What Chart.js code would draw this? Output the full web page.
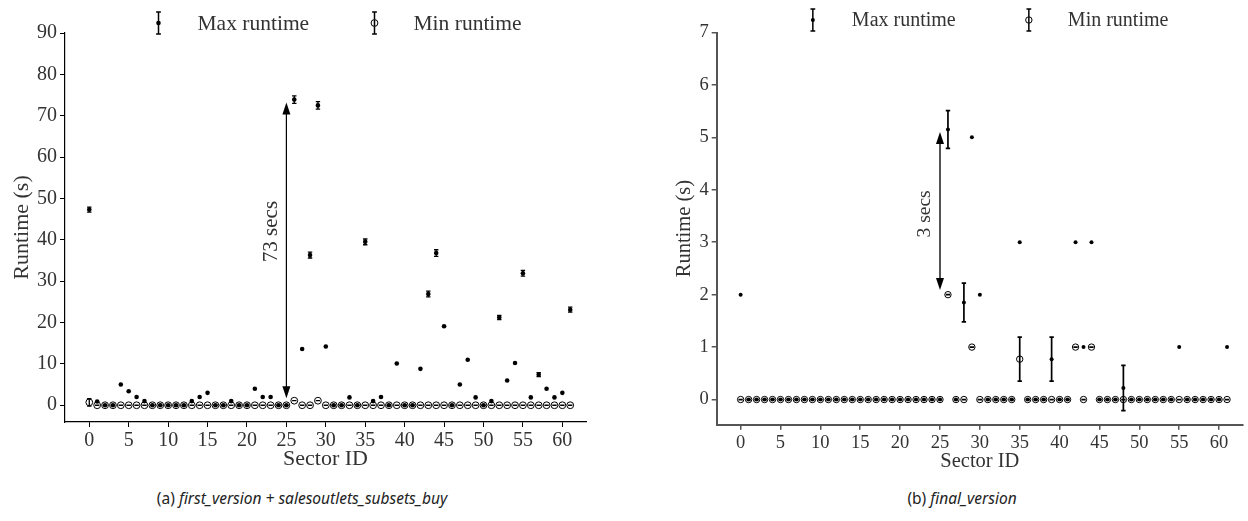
<!DOCTYPE html>
<html>
<head>
<meta charset="utf-8">
<script src="https://cdn.jsdelivr.net/npm/chart.js@4.4.0/dist/chart.umd.min.js"></script>
<style>
  body { margin: 0; background: #fff; width: 1248px; height: 521px; position: relative; overflow: hidden; }
  #left-chart { position: absolute; left: 0; top: 0; }
  #right-chart { position: absolute; left: 660px; top: 0; }
  .caption { position: absolute; top: 487px; font-family: 'Noto Sans', sans-serif; font-size: 15.5px; color: #222; text-align: center; white-space: nowrap; }
</style>
</head>
<body>
<canvas id="left-chart" width="624" height="478"></canvas>
<canvas id="right-chart" width="588" height="478"></canvas>
<div class="caption" style="left:0;width:604px">(a) <i>first_version + salesoutlets_subsets_buy</i></div>
<div class="caption" style="left:662px;width:600px">(b) <i>final_version</i></div>
<script>
// --- data ---
const sectorIds = [0,1,2,3,4,5,6,7,8,9,10,11,12,13,14,15,16,17,18,19,20,21,22,23,24,25,26,27,28,29,30,
  31,32,33,34,35,36,37,38,39,40,41,42,43,44,45,46,47,48,49,50,51,52,53,54,55,56,57,58,59,60,61];
const xTicks = [0,5,10,15,20,25,30,35,40,45,50,55,60];
const leftYTicks = [0,10,20,30,40,50,60,70,80,90];
const rightYTicks = [0,1,2,3,4,5,6,7];
const seriesLabels = ['Max runtime', 'Min runtime'];

// (a) first_version + salesoutlets_subsets_buy
const leftMax = [47.3,0.9,0,0,5.0,3.4,2.0,1.0,0,0, 0,0,0,1.0,2.0,3.0,0,0,1.0,0,
  0,4.0,2.0,2.0,0,0,73.9,13.6,36.3,72.5, 14.2,0,0,1.9,0,39.5,1.0,2.0,0,10.1,
  0,0,8.8,26.9,36.8,19.1,0,5.0,11.0,1.9, 0,1.0,21.2,6.0,10.2,31.9,1.9,7.4,4.0,1.9, 3.0,23.1];
const leftMaxErr = [0.6,0,0,0,0,0,0,0,0,0, 0,0,0,0,0,0,0,0,0,0,
  0,0,0,0,0,0,0.9,0,0.7,0.9, 0,0,0,0,0,0.7,0,0,0,0,
  0,0,0,0.7,0.8,0,0,0,0,0, 0,0,0.5,0,0,0.7,0,0.5,0,0, 0,0.6];
const leftMin = [0.7,0,0,0,0,0,0,0,0,0, 0,0,0,0,0,0,0,0,0,0,
  0,0,0,0,0,0,1.1,0,0,1.1, 0,0,0,0,0,0,0,0,0,0,
  0,0,0,0,0,0,0,0,0,0, 0,0,0,0,0,0,0,0,0,0, 0,0];
const leftMinErr = [0.9,0,0,0,0,0,0,0,0,0, 0,0,0,0,0,0,0,0,0,0,
  0,0,0,0,0,0,0,0,0,0, 0,0,0,0,0,0,0,0,0,0,
  0,0,0,0,0,0,0,0,0,0, 0,0,0,0,0,0,0,0,0,0, 0,0];

// (b) final_version
const rightMax = [2.0,0,0,0,0,0,0,0,0,0, 0,0,0,0,0,0,0,0,0,0,
  0,0,0,0,0,0,5.15,0,1.85,5.0, 2.0,0,0,0,0,3.0,0,0,0,0.77,
  0,0,3.0,1.0,3.0,0,0,0,0.22,0, 0,0,0,0,0,1.0,0,0,0,0, 0,1.0];
const rightMaxErr = [0,0,0,0,0,0,0,0,0,0, 0,0,0,0,0,0,0,0,0,0,
  0,0,0,0,0,0,0.36,0,0.37,0, 0,0,0,0,0,0,0,0,0,0.42,
  0,0,0,0,0,0,0,0,0.43,0, 0,0,0,0,0,0,0,0,0,0, 0,0];
const rightMin = [0,0,0,0,0,0,0,0,0,0, 0,0,0,0,0,0,0,0,0,0,
  0,0,0,0,0,0,2.0,0,0,1.0, 0,0,0,0,0,0.77,0,0,0,0,
  0,0,1.0,0,1.0,0,0,0,0,0, 0,0,0,0,0,0,0,0,0,0, 0,0];
const rightMinErr = [0,0,0,0,0,0,0,0,0,0, 0,0,0,0,0,0,0,0,0,0,
  0,0,0,0,0,0,0,0,0,0, 0,0,0,0,0,0.42,0,0,0,0,
  0,0,0,0,0,0,0,0,0,0, 0,0,0,0,0,0,0,0,0,0, 0,0];

const SERIF = "'Liberation Serif', 'DejaVu Serif', serif";

// vertical error bars with small caps, drawn under the markers
const errorBarPlugin = {
  id: 'errorBars',
  beforeDatasetsDraw(chart, args, opts) {
    const { ctx, scales: { x, y } } = chart;
    const cap = 2.2;
    ctx.save();
    chart.data.datasets.forEach(ds => {
      if (!ds.errors) return;
      ctx.strokeStyle = '#000';
      ctx.lineWidth = opts.width || 1.3;
      ds.data.forEach((p, i) => {
        const e = ds.errors[i];
        // zero-width bars only show as a dash inside the open rings
        if (e === 0 && !ds.hollow) return;
        const px = x.getPixelForValue(p.x);
        const top = y.getPixelForValue(p.y + e);
        const bot = y.getPixelForValue(p.y - e);
        ctx.beginPath();
        if (e > 0) { ctx.moveTo(px, top); ctx.lineTo(px, bot); }
        ctx.moveTo(px - cap, top); ctx.lineTo(px + cap, top);
        ctx.moveTo(px - cap, bot); ctx.lineTo(px + cap, bot);
        ctx.stroke();
      });
    });
    ctx.restore();
  }
};

// double arrow with a rotated note ("73 secs", "3 secs")
const arrowPlugin = {
  id: 'arrowNote',
  afterDatasetsDraw(chart, args, opts) {
    if (!opts || opts.x == null) return;
    const { ctx, scales: { x, y } } = chart;
    const px = x.getPixelForValue(opts.x);
    const yTop = y.getPixelForValue(opts.yTo);
    const yBot = y.getPixelForValue(opts.yFrom);
    const headLen = 12, headHalf = 4;
    ctx.save();
    ctx.strokeStyle = opts.color;
    ctx.lineWidth = opts.width;
    ctx.beginPath();
    ctx.moveTo(px, yTop + headLen - 1);
    ctx.lineTo(px, yBot - headLen + 1);
    ctx.stroke();
    ctx.fillStyle = '#000';
    ctx.beginPath();
    ctx.moveTo(px, yTop); ctx.lineTo(px - headHalf, yTop + headLen); ctx.lineTo(px + headHalf, yTop + headLen);
    ctx.closePath(); ctx.fill();
    ctx.beginPath();
    ctx.moveTo(px, yBot); ctx.lineTo(px - headHalf, yBot - headLen); ctx.lineTo(px + headHalf, yBot - headLen);
    ctx.closePath(); ctx.fill();
    // label, rotated
    ctx.translate(px - 15, y.getPixelForValue(opts.labelY));
    ctx.rotate(-Math.PI / 2);
    ctx.font = `${opts.fontSize}px ${SERIF}`;
    ctx.fillStyle = '#333';
    ctx.textAlign = 'center';
    ctx.textBaseline = 'middle';
    ctx.fillText(opts.label, 0, 0);
    ctx.restore();
  }
};

// legend: errorbar glyph + label, placed relative to the plot centre
const errLegendPlugin = {
  id: 'errLegend',
  afterDraw(chart, args, opts) {
    const { ctx, chartArea } = chart;
    const cx = (chartArea.left + chartArea.right) / 2;
    ctx.save();
    chart.data.datasets.forEach((ds, i) => {
      const sx = cx + opts.offsets[i];
      const sy = opts.y;
      ctx.strokeStyle = '#000';
      ctx.lineWidth = 1.5;
      ctx.beginPath();
      ctx.moveTo(sx, sy - 11); ctx.lineTo(sx, sy + 11);
      ctx.moveTo(sx - 2.4, sy - 11); ctx.lineTo(sx + 2.4, sy - 11);
      ctx.moveTo(sx - 2.4, sy + 11); ctx.lineTo(sx + 2.4, sy + 11);
      ctx.stroke();
      ctx.beginPath();
      ctx.arc(sx, sy, ds.pointRadius, 0, Math.PI * 2);
      if (ds.hollow) {
        ctx.fillStyle = '#fff'; ctx.fill();
        ctx.lineWidth = 1; ctx.stroke();
        ctx.beginPath(); ctx.moveTo(sx, sy - ds.pointRadius); ctx.lineTo(sx, sy + ds.pointRadius);
        ctx.lineWidth = 1.5; ctx.stroke();
      } else {
        ctx.fillStyle = '#000'; ctx.fill();
      }
      ctx.font = `${opts.fontSize}px ${SERIF}`;
      ctx.fillStyle = '#333';
      ctx.textAlign = 'left';
      ctx.textBaseline = 'middle';
      ctx.fillText(ds.label, sx + 39, sy + 1);
    });
    ctx.restore();
  }
};

function points(values) {
  return sectorIds.map((s, i) => ({ x: s, y: values[i] }));
}

function makeChart(canvasId, cfg) {
  const axisColor = cfg.axisColor;
  return new Chart(document.getElementById(canvasId), {
    type: 'scatter',
    plugins: [errorBarPlugin, arrowPlugin, errLegendPlugin],
    data: {
      datasets: [{
        label: seriesLabels[0],
        data: points(cfg.max),
        errors: cfg.maxErr,
        pointRadius: cfg.dotRadius,
        pointBorderWidth: 0,
        backgroundColor: '#000',
        borderColor: '#000'
      }, {
        label: seriesLabels[1],
        data: points(cfg.min),
        errors: cfg.minErr,
        hollow: true,
        pointRadius: cfg.ringRadius,
        pointBorderWidth: 1,
        backgroundColor: 'rgba(0,0,0,0)',
        borderColor: '#000'
      }]
    },
    options: {
      responsive: false,
      animation: false,
      layout: { padding: { top: cfg.top, right: cfg.padRight, left: 0, bottom: 0 } },
      plugins: {
        legend: { display: false },
        tooltip: { enabled: false },
        errorBars: { width: cfg.errWidth },
        arrowNote: cfg.arrow,
        errLegend: { offsets: [-167, 49], y: cfg.legendY, fontSize: cfg.legendFont }
      },
      scales: {
        x: {
          type: 'linear',
          min: cfg.xMin, max: cfg.xMax,
          afterBuildTicks: s => { s.ticks = xTicks.map(v => ({ value: v })); },
          afterFit: s => { s.height = cfg.xAxisHeight; },
          ticks: { color: '#333', font: { family: SERIF, size: cfg.tickFont }, padding: 2, maxRotation: 0 },
          grid: { display: true, drawOnChartArea: false, drawTicks: true, tickLength: 5, color: axisColor, lineWidth: cfg.tickWidth },
          border: { display: true, color: axisColor, width: cfg.axisWidth },
          title: { display: true, text: 'Sector ID', color: '#333', font: { family: SERIF, size: cfg.titleFont }, padding: { top: 0, bottom: cfg.xTitlePad } }
        },
        y: {
          type: 'linear',
          min: cfg.yMin, max: cfg.yMax,
          afterBuildTicks: s => { s.ticks = cfg.yTicks.map(v => ({ value: v })); },
          afterFit: s => { s.width = cfg.yAxisWidth; },
          ticks: { color: '#333', font: { family: SERIF, size: cfg.tickFont }, padding: 3 },
          grid: { display: true, drawOnChartArea: false, drawTicks: true, tickLength: 5, color: axisColor, lineWidth: cfg.tickWidth },
          border: { display: true, color: axisColor, width: cfg.axisWidth },
          title: { display: true, text: 'Runtime (s)', color: '#333', font: { family: SERIF, size: cfg.titleFont }, padding: { top: cfg.yTitlePad, bottom: 0 } }
        }
      }
    }
  });
}

makeChart('left-chart', {
  max: leftMax, maxErr: leftMaxErr, min: leftMin, minErr: leftMinErr,
  yTicks: leftYTicks, yMin: -4.05, yMax: 90, xMin: -3.08, xMax: 63,
  top: 33, padRight: 38, xAxisHeight: 56, yAxisWidth: 65,
  dotRadius: 2.3, ringRadius: 3.4, errWidth: 1.3,
  axisColor: '#000', axisWidth: 1.2, tickWidth: 1,
  tickFont: 20, titleFont: 22, legendFont: 21.5, legendY: 23,
  xTitlePad: 6, yTitlePad: 9,
  arrow: { x: 25, yFrom: 1.7, yTo: 73.2, label: '73 secs', labelY: 42, color: '#000', width: 1.2, fontSize: 21 }
});

makeChart('right-chart', {
  max: rightMax, maxErr: rightMaxErr, min: rightMin, minErr: rightMinErr,
  yTicks: rightYTicks, yMin: -0.48, yMax: 7, xMin: -3, xMax: 63,
  top: 32.5, padRight: 1, xAxisHeight: 53.3, yAxisWidth: 56.7,
  dotRadius: 2, ringRadius: 3.2, errWidth: 1.7,
  axisColor: '#555', axisWidth: 2, tickWidth: 1.5,
  tickFont: 18.5, titleFont: 20.5, legendFont: 20, legendY: 20,
  xTitlePad: 4, yTitlePad: 12.5,
  arrow: { x: 25, yFrom: 2.09, yTo: 5.1, label: '3 secs', labelY: 3.54, color: '#555', width: 2, fontSize: 19.5 }
});
</script>
</body>
</html>
